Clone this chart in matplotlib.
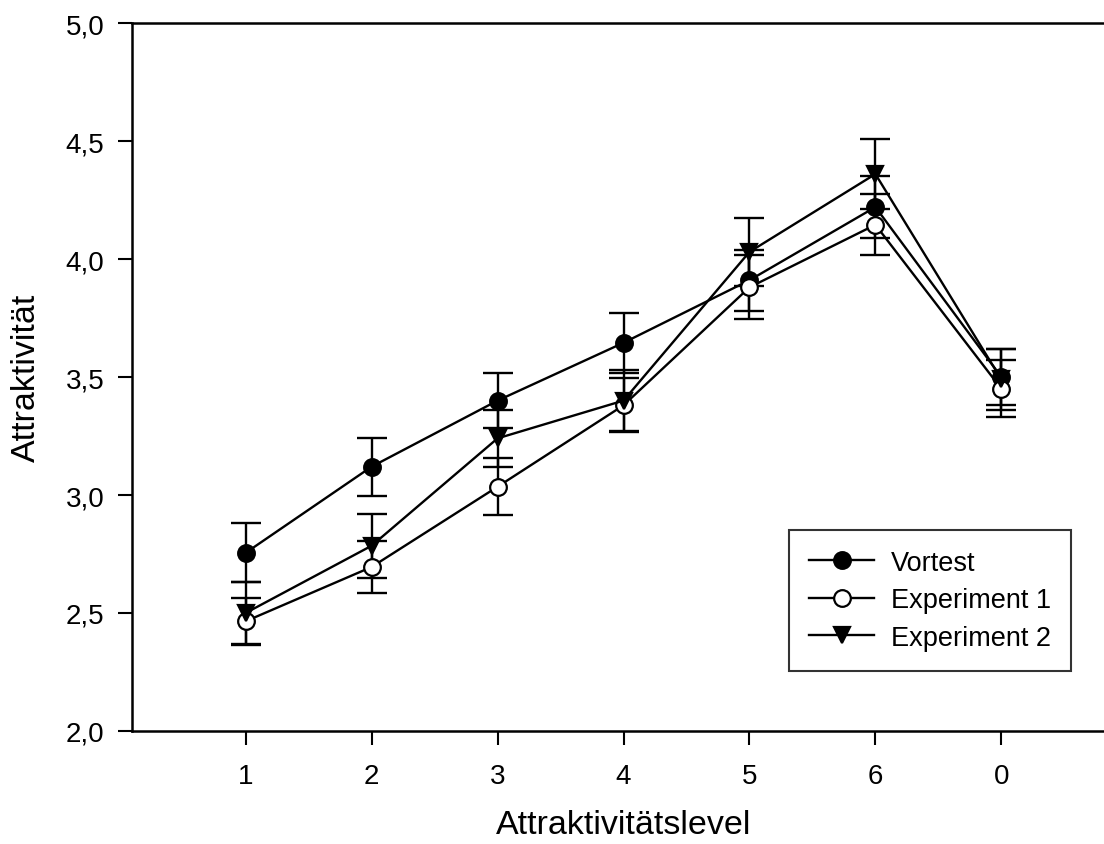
import matplotlib
matplotlib.use('Agg')
import matplotlib.pyplot as plt

plt.rcParams['font.family'] = ['Liberation Sans', 'DejaVu Sans']

levels = ['1', '2', '3', '4', '5', '6', '0']
vortest = [2.755, 3.12, 3.40, 3.645, 3.91, 4.22, 3.50]
vortest_se = [0.125, 0.123, 0.115, 0.128, 0.13, 0.13, 0.12]
exp1 = [2.465, 2.695, 3.035, 3.38, 3.88, 4.145, 3.45]
exp1_se = [0.10, 0.11, 0.12, 0.115, 0.135, 0.13, 0.12]
exp2 = [2.50, 2.785, 3.24, 3.40, 4.03, 4.36, 3.49]
exp2_se = [0.13, 0.135, 0.12, 0.13, 0.145, 0.15, 0.13]
yticks = [2.0, 2.5, 3.0, 3.5, 4.0, 4.5, 5.0]

fig = plt.figure(figsize=(11.04, 8.45), dpi=100)
ax = fig.add_axes([132/1104, (845-732)/845, 983/1104, 708/845])

x = list(range(1, len(levels) + 1))
series = [
    ('Vortest', vortest, vortest_se, 'o', 'black'),
    ('Experiment 1', exp1, exp1_se, 'o', 'white'),
    ('Experiment 2', exp2, exp2_se, 'v', 'black'),
]
for i, (name, vals, se, mk, fc) in enumerate(series):
    ax.errorbar(x, vals, yerr=se, fmt='none', ecolor='black', elinewidth=1.7,
                capsize=10.5, capthick=1.7, zorder=2)
    ax.plot(x, vals, color='black', lw=1.7, marker=mk, markersize=12,
            markerfacecolor=fc, markeredgecolor='black', markeredgewidth=1.6,
            label=name, zorder=3 + i)

ax.set_xlim(1 - (245.7 - 132) / 126, 7 + (245.7 - 132) / 126)
ax.set_ylim(2.0, 5.0)
ax.set_xticks(x)
ax.set_xticklabels(levels)
ax.set_yticks(yticks)
ax.set_yticklabels([f'{v:.1f}'.replace('.', ',') for v in yticks])
ax.tick_params(axis='both', direction='out', length=10, width=1.5,
               labelsize=20, colors='black')
ax.tick_params(axis='x', pad=13)
ax.tick_params(axis='y', pad=10)
for s in ax.spines.values():
    s.set_linewidth(1.8)
    s.set_color('black')
ax.spines['right'].set_visible(False)

ax.set_xlabel('Attraktivitätslevel', fontsize=24.5)
ax.set_ylabel('Attraktivität', fontsize=24.5)
ax.xaxis.set_label_coords(0.5, (732 - 810) / 708)
ax.yaxis.set_label_coords((42 - 132) / 983, 0.5)

leg = ax.legend(loc='lower left', bbox_to_anchor=((789 - 132) / 983, (732 - 672) / 708),
                fontsize=19.5, frameon=True, fancybox=False, edgecolor='black',
                handlelength=2.4, handletextpad=0.6, labelspacing=0.42,
                borderpad=0.75, borderaxespad=0)
leg.get_frame().set_linewidth(1.5)

fig.savefig('out.png', dpi=100)
